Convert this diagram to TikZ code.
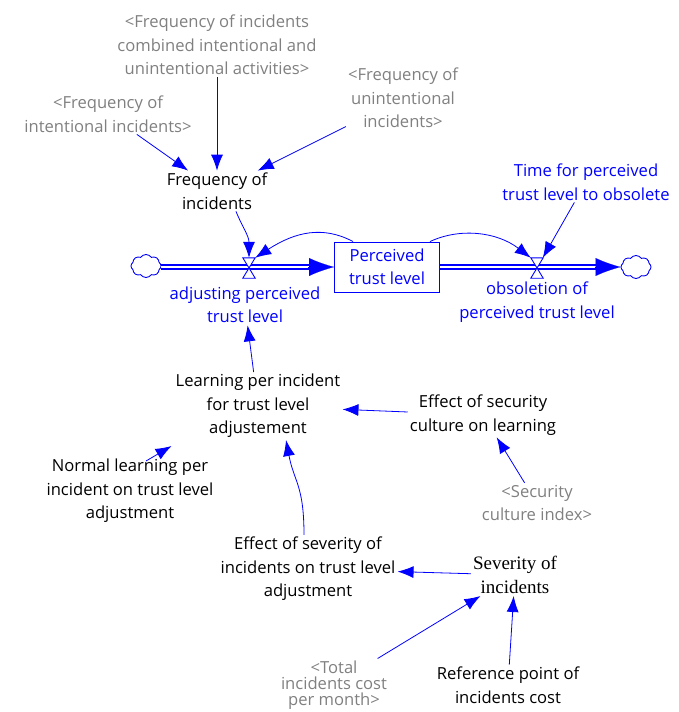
\documentclass[tikz,border=0pt]{standalone}
\usepackage{fontspec}
\setmainfont{Open Sans}
\newfontfamily\serifface{Liberation Serif}
\usetikzlibrary{arrows.meta,shapes.symbols}
\definecolor{vblue}{RGB}{0,0,255}
\definecolor{shadowvar}{RGB}{128,128,128}

\begin{document}
\begin{tikzpicture}[x=1pt,y=-1pt,
  lab/.style={align=center,font=\fontsize{16.6}{23.5}\selectfont,inner sep=2pt},
  var/.style={lab,text=black},
  ghost/.style={lab,text=shadowvar},
  rate/.style={lab,text=vblue},
  stockbox/.style={draw=vblue,line width=0.9pt,text=vblue,minimum width=105pt,minimum height=50pt,
    align=center,font=\fontsize{16.6}{23.5}\selectfont,inner sep=2pt},
  link/.style={vblue,line width=0.8pt,-{Latex[length=16pt,width=12pt]}},
  pipeouter/.style={vblue,line width=5.6pt},
  pipeinner/.style={white,line width=2.6pt},
  pipetip/.style={vblue,line width=0.1pt,-{Latex[length=25pt,width=18pt]}},
  valvebox/.style={inner sep=0pt,minimum width=12pt,minimum height=20pt},
  sink/.style={cloud,cloud puffs=8,cloud puff arc=110,aspect=1.3,draw=vblue,line width=0.9pt,
    fill=white,minimum width=30pt,minimum height=23pt,inner sep=0pt},
]
\useasboundingbox (0,0) rectangle (678,712);

% stock, sources/sinks and valves
\node[stockbox] (st) at (387,267) {Perceived\\trust level};
\node[sink] (c1) at (146,266) {};
\node[sink] (c2) at (636,267) {};
\node[valvebox] (v1) at (249,268) {};
\node[valvebox] (v2) at (537,268) {};

% flow pipes (double lines)
\draw[pipeouter] (c1.east |- st.west) -- ([xshift=-20pt]st.west);
\draw[pipeinner] ([xshift=-0.5pt]c1.east |- st.west) -- ([xshift=-20pt]st.west);
\draw[pipetip] ([xshift=-26pt]st.west) -- (st.west);
\draw[pipeouter] (st.east) -- ([xshift=-20pt]c2.west |- st.east);
\draw[pipeinner] ([xshift=0.5pt]st.east) -- ([xshift=-20pt]c2.west |- st.east);
\draw[pipetip] ([xshift=-26pt]c2.west |- st.east) -- (c2.west |- st.east);

% valve symbols
\foreach \v in {v1,v2}
  \draw[vblue,line width=0.9pt,fill=white]
    (\v.north west) -- (\v.north east) -- (\v.south west) -- (\v.south east) -- cycle;

% variables
\node[ghost] (fc) at (217,45) {<Frequency of incidents\\combined intentional and\\unintentional activities>};
\node[ghost] (fint) at (108,114) {<Frequency of\\intentional incidents>};
\node[ghost] (funi) at (403,98) {<Frequency of\\unintentional\\incidents>};
\node[var] (fi) at (217,191) {Frequency of\\incidents};
\node[rate] (tt) at (586,182) {Time for perceived\\trust level to obsolete};
\node[rate] (adj) at (245,305) {adjusting perceived\\trust level};
\node[rate] (obs) at (537,302) {obsoletion of\\perceived trust level};
\node[var] (lp) at (258,406) {Learning per incident\\for trust level\\adjustement};
\node[var] (es) at (483,415) {Effect of security\\culture on learning};
\node[ghost] (si) at (537,503) {<Security\\culture index>};
\node[var] (nl) at (130,491) {Normal learning per\\incident on trust level\\adjustment};
\node[var] (ef) at (308,569) {Effect of severity of\\incidents on trust level\\adjustment};
\node[var,font=\serifface\fontsize{19}{24}\selectfont] (sv) at (515,575) {Severity of\\incidents};
\node[ghost,font=\fontsize{16.6}{16}\selectfont] (tc) at (334,685) {<Total\\incidents cost\\per month>};
\node[var] (rp) at (508,685) {Reference point of\\incidents cost};

% causal links
\draw[link] (fc) -- (fi);
\draw[link] (fint) -- (fi);
\draw[link] (funi) -- (fi);
\draw[link] ([xshift=19pt]fi.south) .. controls +(6,15) and +(0,-22) .. (v1.north);
\draw[link] ([xshift=-34pt]st.north) .. controls +(-30,-16) and +(40,-26) .. (v1.north east);
\draw[link] ([xshift=43pt]st.north) .. controls +(30,-14) and +(-34,-26) .. (v2.north west);
\draw[link] (tt) -- (v2);
\draw[link] (lp) -- (adj);
\draw[link] (es) -- (lp);
\draw[link] (si) -- (es);
\draw[link] ([xshift=16pt,yshift=-4pt]nl.north) -- ([xshift=-2pt,yshift=-6pt]lp.south west);
\draw[link] ([xshift=-4pt]ef.north) .. controls +(0,-50) and +(8,42) .. ([xshift=28pt]lp.south);
\draw[link] (sv) -- (ef);
\draw[link] (tc) -- (sv);
\draw[link] (rp) -- (sv);
\end{tikzpicture}
\end{document}
